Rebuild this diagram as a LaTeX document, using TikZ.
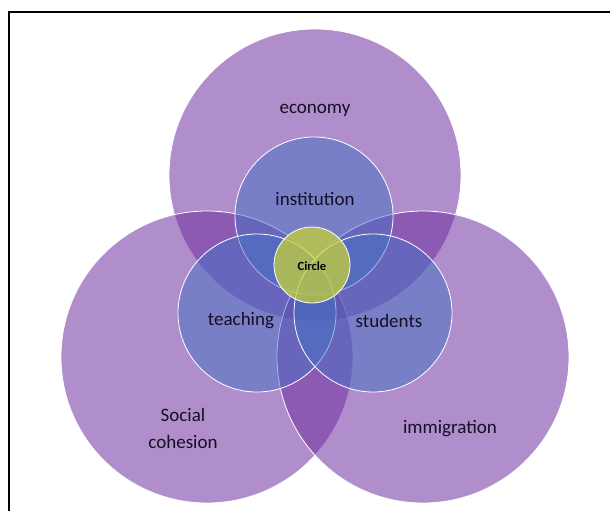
\documentclass[tikz,border=0pt]{standalone}
\usepackage{fontspec}
\setmainfont{Carlito}
\definecolor{outerfill}{RGB}{112,48,160}
\definecolor{innerfill}{RGB}{68,114,196}
\definecolor{corefill}{RGB}{198,208,58}
\definecolor{labeltext}{RGB}{20,15,35}

\begin{document}
\begin{tikzpicture}[x=1pt,y=-1pt,
    outer/.style={circle,draw=white,line width=0.8pt,fill=outerfill,fill opacity=0.55,minimum size=292pt,inner sep=0pt},
    inner/.style={circle,draw=white,line width=0.8pt,fill=innerfill,fill opacity=0.5,minimum size=158pt,inner sep=0pt},
    core/.style={circle,draw=white,line width=0.8pt,fill=corefill,fill opacity=0.75,minimum size=76pt,inner sep=0pt},
    lbl/.style={text=labeltext,font=\fontsize{19}{27}\selectfont,align=center,inner sep=0pt}]
        \useasboundingbox (0,0) rectangle (610,511);
        % frame
        \draw[line width=1.6pt] (9,511) -- (9,12) -- (610,12);
        % big circles
        \node[outer] (economy) at (315,175) {};
        \node[outer] (cohesion) at (207,357) {};
        \node[outer] (immigration) at (423,357) {};
        % small circles
        \node[inner] (institution) at (314,216) {};
        \node[inner] (teaching) at (257,313) {};
        \node[inner] (students) at (373,313) {};
        \node[core] (circle) at (312,265) {};
        % labels
        \node[lbl] (economylbl) at (315,110) {economy};
        \node[lbl] (cohesionlbl) at (183,428) {Social\\cohesion};
        \node[lbl] (immigrationlbl) at (450,429) {immigration};
        \node[lbl] (institutionlbl) at (315,199) {institution};
        \node[lbl] (teachinglbl) at (241,321) {teaching};
        \node[lbl] (studentslbl) at (389,321) {students};
        \node[text=black,font=\fontsize{12.5}{14}\selectfont\bfseries,inner sep=0pt] (circlelbl) at (312,266) {Circle};
    \end{tikzpicture}
\end{document}
